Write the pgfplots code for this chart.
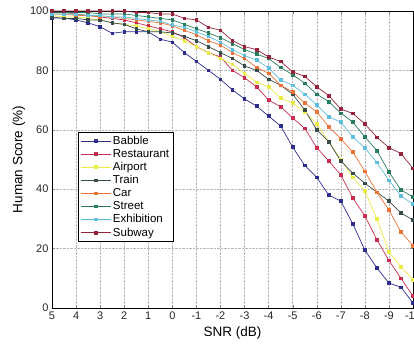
\documentclass[border=0pt]{standalone}
\usepackage{pgfplots}
\pgfplotsset{compat=1.18}
\usepackage{pgfplotstable}
\usepackage{fontspec}
\setmainfont{Liberation Sans}
\usetikzlibrary{calc}
\definecolor{cbab}{RGB}{45,45,140}
\definecolor{cres}{RGB}{200,45,80}
\definecolor{cair}{RGB}{235,235,70}
\definecolor{ctra}{RGB}{55,75,75}
\definecolor{ccar}{RGB}{235,115,55}
\definecolor{cstr}{RGB}{40,125,95}
\definecolor{cexh}{RGB}{95,190,220}
\definecolor{csub}{RGB}{150,35,60}
\pgfplotstableread{
snr  bab  res  air  tra  car  str  exh  sub
5    97.6 99.5 98.5 98   99   99.5 99   100
4.5  97.6 99.5 98   97.5 99   99.5 99   100
4    97   99   98   97.5 98.5 99.5 99   100
3.5  96   98.5 97.5 97   98.5 99.5 98.5 100
3    94.7 98   97   97   98   99   98.5 100
2.5  92.5 97.5 96   96   98   99   98   100
2    93   97   95.5 95.5 97.5 99   98   100
1.5  93   96   95   94   97   98.5 97.5 99.5
1    93   95   94   93   96.5 98   97   99.5
0.5  90.5 94   93   93   96   97.5 96.5 99
0    89.5 93   91.5 92.6 95   97   95.3 99
-0.5 86   91   90   91.5 93.5 95.5 94.5 97.5
-1   83   88   88   90   92   94   93   97
-1.5 80   86   86   88   90   92.6 91.4 94.5
-2   77   84.5 84   86   88.5 91   89.5 93.5
-2.5 73.4 80   82   84   86   89   87   90
-3   70.4 77.5 79   81.5 84   87   85   88
-3.5 68   74.5 76   80   81   85.5 83.5 87
-4   64.6 70   74.5 77   79   84   80.8 84.5
-4.5 61.3 67.8 70.7 75   75   81   76.8 83
-5   54.2 64   69   72   72.8 78.5 75   79.5
-5.5 48   60.5 66   66.7 69   75.7 72   78
-6   44   54   62   60   66   72   68.4 74.5
-6.5 38   49.5 56   56   61   69.5 64.4 71.5
-7   36   44.8 50   49.5 57   65.6 62.6 67
-7.5 28.3 37   44   45.4 52.5 62.6 57.6 65.5
-8   19.5 31   39.4 42   46   57.6 53.9 62
-8.5 13.5 23   30   39   39   53   49   57.5
-9   8.4  16   19   36   33   45.8 43   54
-9.5 7    10   13.8 32   25.6 39.7 37.7 52
-10  1.7  4    9.5  29.6 21   37.4 35   47
}\datatable
\begin{document}
\begin{tikzpicture}
\begin{axis}[
  scale only axis,
  width=361pt, height=297pt,
  x dir=reverse,
  xmin=-10, xmax=5, ymin=0, ymax=100,
  xtick={5,4,...,-10}, ytick={0,20,...,100},
  tick align=inside,
  major tick length=3pt,
  grid=major,
  major grid style={densely dotted, gray!55},
  axis line style={black, line width=0.6pt},
  /pgf/number format/assume math mode=true,
  tick label style={font=\fontsize{11}{12}\selectfont, text=black!85},
  xlabel={SNR (dB)}, ylabel={Human Score (\%)},
  label style={font=\fontsize{13.5}{15}\selectfont},
  xlabel style={yshift=-1pt},
  ylabel style={yshift=-2pt},
  legend style={at={(0.072,0.593)}, anchor=north west, draw=black, line width=0.5pt,
    fill=white, font=\fontsize{11.5}{13}\selectfont, row sep=-0.6pt,
    inner sep=2pt},
  legend cell align=left,
  legend image code/.code={\draw[#1] (0pt,0pt) -- (30pt,0pt); \draw[#1, only marks] plot coordinates {(15pt,0pt)};},
  every axis plot/.append style={line width=0.7pt, mark=square*, mark size=1.3pt},
]
\addplot[cbab, mark options={fill=cbab}] table[x=snr,y=bab]{\datatable};
\addlegendentry{Babble}
\addplot[cres, mark options={fill=cres}] table[x=snr,y=res]{\datatable};
\addlegendentry{Restaurant}
\addplot[cair, mark options={fill=cair}] table[x=snr,y=air]{\datatable};
\addlegendentry{Airport}
\addplot[ctra, mark options={fill=ctra}] table[x=snr,y=tra]{\datatable};
\addlegendentry{Train}
\addplot[ccar, mark options={fill=ccar}] table[x=snr,y=car]{\datatable};
\addlegendentry{Car}
\addplot[cstr, mark options={fill=cstr}] table[x=snr,y=str]{\datatable};
\addlegendentry{Street}
\addplot[cexh, mark options={fill=cexh}] table[x=snr,y=exh]{\datatable};
\addlegendentry{Exhibition}
\addplot[csub, mark options={fill=csub}] table[x=snr,y=sub]{\datatable};
\addlegendentry{Subway}
\end{axis}
\pgfresetboundingbox
\useasboundingbox ($(current axis.south west)+(-52pt,-39pt)$) rectangle ($(current axis.north east)+(1pt,11pt)$);
\end{tikzpicture}
\end{document}
